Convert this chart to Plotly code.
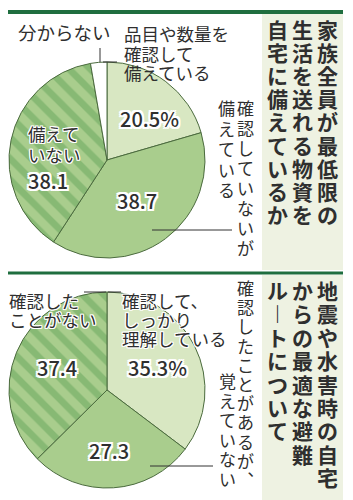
import plotly.graph_objects as go

W, H = 353, 500

# ---- data ----
labels1 = ["品目や数量を確認して備えている", "確認していないが備えている", "備えていない", "分からない"]
values1 = [20.5, 38.7, 38.1, 2.7]
labels2 = ["確認して、しっかり理解している", "確認したことがあるが、覚えていない", "確認したことがない"]
values2 = [35.3, 27.3, 37.4]
title1 = ["家族全員が最低限の", "生活を送れる物資を", "自宅に備えているか"]
title2 = ["地震や水害時の自宅", "からの最適な避難", "ル︱トについて"]

# ---- styles ----
FONT = "Noto Sans CJK JP"
TXT = "#2f2f2f"
LIGHT = "#d8e7c2"
MED = "#a9cd8d"
HATCH = "#87b974"
EDGE = "#4b6b3e"
GREEN_LINE = "#1f6e3f"
BOX = "#eef2e2"


def px(x):
    return x / W


def py(y):
    return 1 - y / H


def outline(r):
    offs = [(r, 0), (-r, 0), (0, r), (0, -r), (r, r), (-r, -r), (r, -r), (-r, r)]
    return ", ".join(f"{dx}px {dy}px 0px white" for dx, dy in offs)


fig = go.Figure()


def add_pie(labels, values, cx, cy, r, colors, shapes_):
    fig.add_trace(go.Pie(
        labels=labels, values=values, sort=False, direction="clockwise", rotation=0,
        domain=dict(x=[px(cx - r), px(cx + r)], y=[py(cy + r), py(cy - r)]),
        marker=dict(colors=colors, line=dict(color=EDGE, width=1),
                    pattern=dict(shape=shapes_, fgcolor=HATCH, bgcolor=colors, size=15,
                                 solidity=0.45)),
        textinfo="none", hoverinfo="skip", showlegend=False,
    ))


add_pie(labels1, values1, 107, 160, 98, [LIGHT, MED, MED, "#ffffff"], ["", "", "\\", ""])
add_pie(labels2, values2, 107, 390, 98, [LIGHT, MED, MED], ["", "", "\\"])

shapes = []
# title boxes
shapes.append(dict(type="rect", xref="paper", yref="paper", x0=px(262), x1=px(343), y0=py(270), y1=py(14),
                   fillcolor=BOX, line=dict(width=0), layer="below"))
shapes.append(dict(type="rect", xref="paper", yref="paper", x0=px(262), x1=px(343), y0=py(500), y1=py(275),
                   fillcolor=BOX, line=dict(width=0), layer="below"))


def hline(x0, x1, y, w=1, c="#333333"):
    shapes.append(dict(type="line", xref="paper", yref="paper", x0=px(x0), x1=px(x1), y0=py(y), y1=py(y),
                       line=dict(color=c, width=w)))


def vline(x, y0, y1, w=1, c="#333333"):
    shapes.append(dict(type="line", xref="paper", yref="paper", x0=px(x), x1=px(x), y0=py(y0), y1=py(y1),
                       line=dict(color=c, width=w)))


hline(8, 343, 12, 4, GREEN_LINE)
hline(8, 343, 273, 3, GREEN_LINE)
# leader lines
vline(100, 48, 62)
hline(103, 117, 62)
hline(152, 232, 230)
hline(150, 213, 466)
hline(84, 106, 292)
hline(108, 121, 292)

ann = []


def text(s, x, y, size, anchor="center", shadow=None, weight="normal", align="left"):
    f = dict(family=FONT, size=size, color=TXT, weight=weight)
    if shadow:
        f["shadow"] = shadow
    ann.append(dict(text=s, x=px(x), y=py(y), xref="paper", yref="paper", showarrow=False,
                    xanchor=anchor, yanchor="middle", font=f, align=align, borderpad=0))


def block(items, x, y0, step, size, anchor="left", shadow=None, weight="normal", align="left"):
    # multi-line text whose line pitch (step) is set independently from glyph size
    outer = step / 1.3
    s = "<br>".join(f'<span style="font-size:{size}px">{t}</span>' for t in items)
    yc = y0 + (len(items) - 1) * step / 2
    text(s, x, yc, outer, anchor, shadow, weight, align)


def vtext(s, x, y0, step, size, weight="normal", shadow=None):
    block(list(s), x, y0, step, size, "center", shadow, weight, "center")


SH1 = outline(1)
SH2 = outline(2)

# pie 1 labels
text(labels1[3], 64, 32, 18.5)
block(["品目や数量を", "確認して", "備えている"], 123, 34, 19.5, 17.5)
text(f"{values1[0]}%", 149, 118, 20, shadow=SH2, weight=500)
text(f"{values1[1]}", 137, 200, 20, shadow=SH2, weight=500)
block(["備えて", "いない"], 27, 134, 21, 17.5, shadow=SH1)
text(f"{values1[2]}", 27, 180, 20, anchor="left", shadow=SH2, weight=500)
vtext("確認していないが", 245, 107, 20, 17)
vtext("備えている", 226, 107, 20.5, 17)

# pie 2 labels
block(["確認した", "ことがない"], 8, 300, 19, 17.5, shadow=SH1)
block(["確認して、", "しっかり", "理解している"], 121, 300, 19, 17.5, shadow=SH1)
text(f"{values2[2]}", 57, 367, 20, shadow=SH2, weight=500)
text(f"{values2[0]}%", 157, 367, 20, shadow=SH2, weight=500)
text(f"{values2[1]}", 109, 450, 20, shadow=SH2, weight=500)
vtext("確認したことがあるが︑", 245, 287, 19.2, 17)
vtext("覚えていない", 227, 380, 19.6, 17)

# titles
for i, col in enumerate(title1):
    vtext(col, 327 - 25 * i, 29, 23.1, 21, weight="bold")
for i, col in enumerate(title2):
    vtext(col, 327 - 25 * i, 290, 23.4, 21, weight="bold")

fig.update_layout(
    width=W, height=H, margin=dict(l=0, r=0, t=0, b=0),
    paper_bgcolor="white", plot_bgcolor="white",
    shapes=shapes, annotations=ann, showlegend=False,
)

fig.write_html("out.html")
